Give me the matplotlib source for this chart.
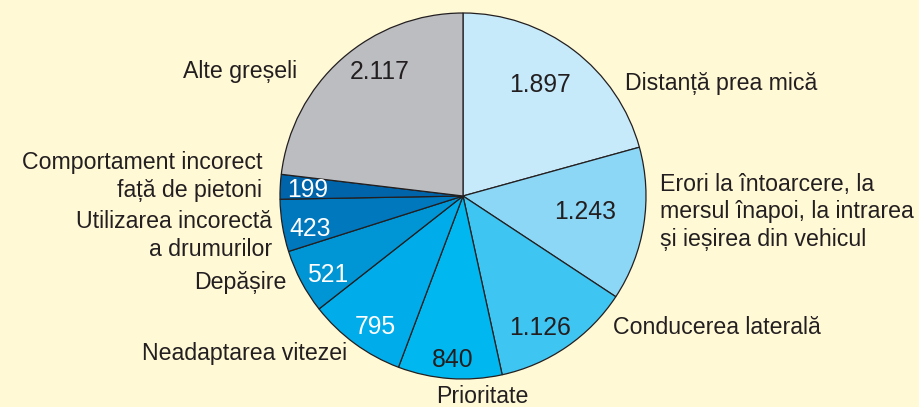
import matplotlib.pyplot as plt

plt.rcParams['font.family'] = ['Liberation Sans', 'DejaVu Sans']

categories = ['Distanță prea mică',
              'Erori la întoarcere, la\nmersul înapoi, la intrarea\nși ieșirea din vehicul',
              'Conducerea laterală', 'Prioritate', 'Neadaptarea vitezei',
              'Depășire', 'Utilizarea incorectă\na drumurilor',
              'Comportament incorect\nfață de pietoni', 'Alte greșeli']
values = [1897, 1243, 1126, 840, 795, 521, 423, 199, 2117]
value_labels = ['1.897', '1.243', '1.126', '840', '795', '521', '423', '199', '2.117']

colors = ['#c6eafa', '#8dd7f6', '#3fc5f1', '#00b8ef', '#00adea',
          '#0096d5', '#0078be', '#0064aa', '#bcbdc1']
value_colors = ['#231f20'] * 4 + ['white'] * 4 + ['#231f20']

# layout, in pie radius units from the centre
value_pos = [(0.421, 0.607), (0.667, -0.087), (0.421, -0.721), (-0.055, -0.896),
             (-0.481, -0.716), (-0.738, -0.432), (-0.836, -0.180), (-0.847, 0.033),
             (-0.454, 0.678)]
label_pos = [(0.885, 0.617, 'left'), (1.077, -0.087, 'left'), (0.820, -0.721, 'left'),
             (0.104, -1.098, 'center'), (-0.634, -0.858, 'right'), (-0.962, -0.470, 'right'),
             (-1.044, -0.216, 'right'), (-1.098, 0.107, 'right'), (-0.907, 0.678, 'right')]

W, H = 919, 407
cx, cy, R = 463, 196, 183
bg = '#fff9d6'

fig = plt.figure(figsize=(W / 100, H / 100), dpi=100, facecolor=bg)
ax = fig.add_axes([0, 0, 1, 1])
ax.set_facecolor(bg)

ax.pie(values, colors=colors, startangle=90, counterclock=False,
       wedgeprops=dict(edgecolor='#231f20', linewidth=0.9))

for (x, y), t, c in zip(value_pos, value_labels, value_colors):
    ax.text(x, y, t, ha='center', va='center', fontsize=17.8, color=c)

for (x, y, ha), t in zip(label_pos, categories):
    ax.text(x, y, t, ha=ha, va='center', fontsize=16.7, color='#231f20',
            multialignment=ha, linespacing=1.27)

ax.set_xlim(-cx / R, (W - cx) / R)
ax.set_ylim(-(H - cy) / R, cy / R)
ax.set_aspect('equal', adjustable='box')
ax.axis('off')

fig.savefig('out.png', dpi=100, facecolor=bg)
